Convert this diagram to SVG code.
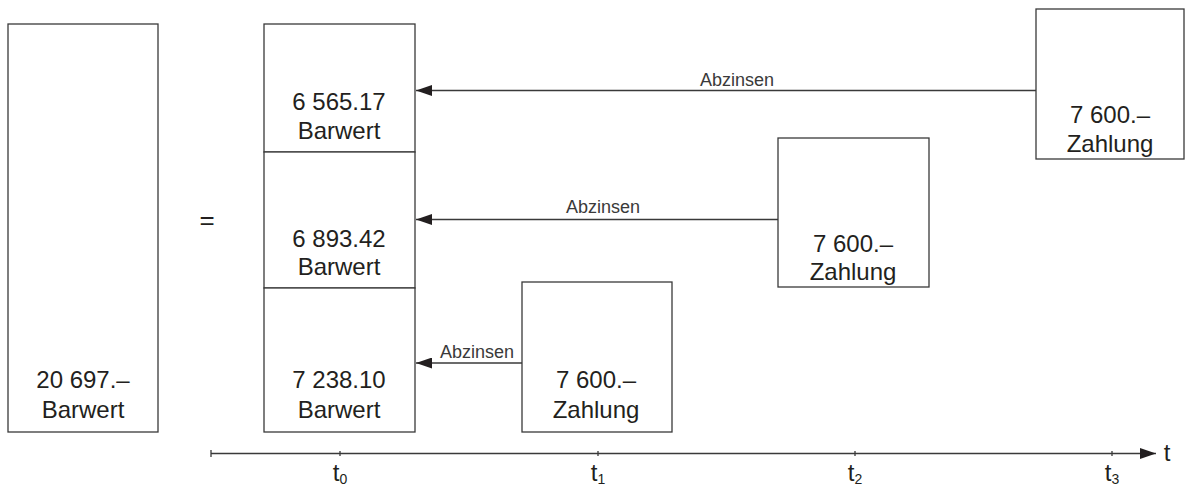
<svg xmlns="http://www.w3.org/2000/svg" width="1185" height="485" viewBox="0 0 1185 485">
  <style>
    .box { fill: #ffffff; stroke: #3a3a3a; stroke-width: 1.3; }
    .line { fill: none; stroke: #3a3a3a; stroke-width: 1.3; }
    .big { font-family: "Liberation Sans", Arial, sans-serif; font-size: 24px; fill: #231f20; text-anchor: middle; }
    .lbl { font-family: "Liberation Sans", Arial, sans-serif; font-size: 18px; fill: #3a3a3a; text-anchor: middle; }
    .sub { font-size: 14px; }
  </style>
  <defs>
    <marker id="arrow" viewBox="0 0 16 11" refX="16" refY="5.5" markerWidth="16" markerHeight="11" markerUnits="userSpaceOnUse" orient="auto">
      <path d="M0,0 L16,5.5 L0,11 Z" fill="#231f20"/>
    </marker>
  </defs>

  <rect width="1185" height="485" fill="#ffffff"/>

  <!-- total present value -->
  <g id="total">
    <rect class="box" x="8" y="24" width="150" height="408"/>
    <text class="big" x="83" y="388">20 697.–</text>
    <text class="big" x="83" y="418">Barwert</text>
  </g>

  <text class="big" x="207" y="229" style="font-size:26px">=</text>

  <!-- stacked present values at t0 -->
  <g id="pv3">
    <rect class="box" x="264" y="24" width="151" height="128"/>
    <text class="big" x="339" y="110">6 565.17</text>
    <text class="big" x="339" y="139">Barwert</text>
  </g>
  <g id="pv2">
    <rect class="box" x="264" y="152" width="151" height="136"/>
    <text class="big" x="339" y="247">6 893.42</text>
    <text class="big" x="339" y="275">Barwert</text>
  </g>
  <g id="pv1">
    <rect class="box" x="264" y="288" width="151" height="144"/>
    <text class="big" x="339" y="388">7 238.10</text>
    <text class="big" x="339" y="418">Barwert</text>
  </g>

  <!-- payments -->
  <g id="pay1">
    <rect class="box" x="522" y="282" width="150" height="150"/>
    <text class="big" x="596" y="388">7 600.–</text>
    <text class="big" x="596" y="418">Zahlung</text>
  </g>
  <g id="pay2">
    <rect class="box" x="778" y="138" width="151" height="149"/>
    <text class="big" x="853" y="252">7 600.–</text>
    <text class="big" x="853" y="280">Zahlung</text>
  </g>
  <g id="pay3">
    <rect class="box" x="1036" y="9" width="148" height="150"/>
    <text class="big" x="1110" y="123">7 600.–</text>
    <text class="big" x="1110" y="152">Zahlung</text>
  </g>

  <!-- discounting connectors -->
  <g id="connectors">
    <line class="line" x1="1036" y1="90.5" x2="416" y2="90.5" marker-end="url(#arrow)"/>
    <text class="lbl" x="737" y="86">Abzinsen</text>
    <line class="line" x1="778" y1="219.5" x2="416" y2="219.5" marker-end="url(#arrow)"/>
    <text class="lbl" x="603" y="213">Abzinsen</text>
    <line class="line" x1="522" y1="363" x2="416" y2="363" marker-end="url(#arrow)"/>
    <text class="lbl" x="477" y="358">Abzinsen</text>
  </g>

  <!-- time axis -->
  <g id="axis">
    <line class="line" x1="211" y1="453.5" x2="1156" y2="453.5" marker-end="url(#arrow)"/>
    <line class="line" x1="211" y1="450" x2="211" y2="457"/>
    <line class="line" x1="340" y1="451" x2="340" y2="456"/>
    <line class="line" x1="598" y1="451" x2="598" y2="456"/>
    <line class="line" x1="855" y1="451" x2="855" y2="456"/>
    <line class="line" x1="1112" y1="451" x2="1112" y2="456"/>
    <text class="big" x="340" y="481">t<tspan class="sub" dy="3">0</tspan></text>
    <text class="big" x="598" y="481">t<tspan class="sub" dy="3">1</tspan></text>
    <text class="big" x="855" y="481">t<tspan class="sub" dy="3">2</tspan></text>
    <text class="big" x="1112" y="481">t<tspan class="sub" dy="3">3</tspan></text>
    <text class="big" x="1167" y="461">t</text>
  </g>
</svg>
